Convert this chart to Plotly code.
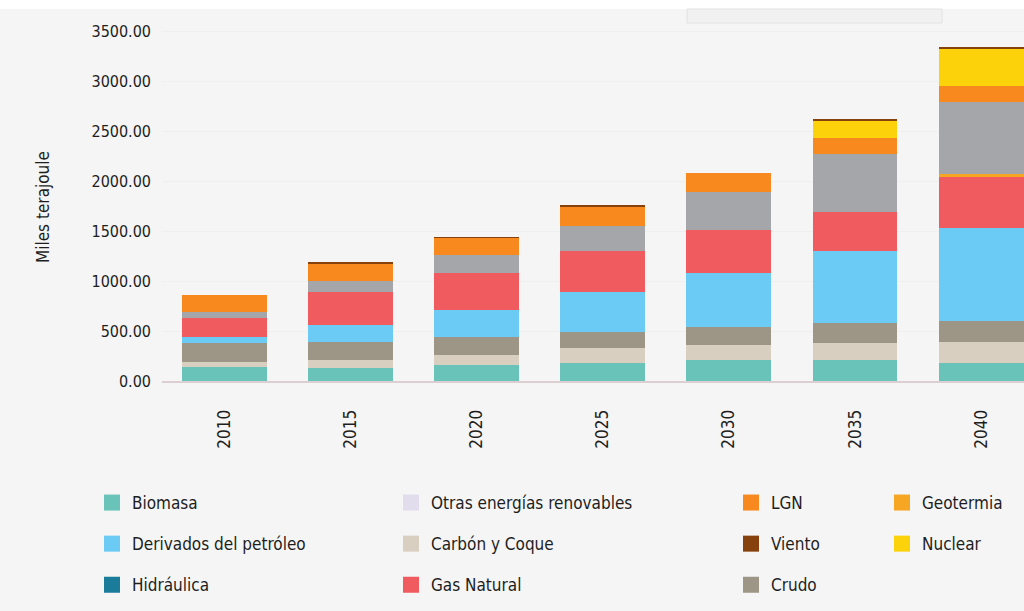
import plotly.graph_objects as go

years = ["2010", "2015", "2020", "2025", "2030", "2035", "2040"]

# Values (miles de terajoule), bottom to top of each stack
biomasa = [140, 135, 160, 183, 210, 210, 180]
carbon_coque = [50, 75, 100, 150, 150, 167, 213]
crudo = [195, 183, 180, 160, 183, 200, 205]
derivados = [55, 167, 270, 400, 534, 726, 937]
gas_natural = [190, 333, 370, 410, 433, 390, 503]
geotermia = [0, 0, 0, 0, 0, 0, 30]
hidraulica = [0, 0, 0, 0, 0, 0, 0]
otras_renovables = [0, 0, 0, 0, 0, 0, 0]
gris_superior = [60, 110, 180, 247, 383, 577, 720]
lgn = [170, 167, 170, 190, 190, 157, 165]
nuclear = [0, 0, 0, 0, 0, 176, 370]
viento = [0, 20, 10, 12, 0, 20, 20]

y_ticks = [0, 500, 1000, 1500, 2000, 2500, 3000, 3500]
y_title = "Miles terajoule"

colors = {
    "Biomasa": "#69c3b9",
    "Carbón y Coque": "#d8cfc0",
    "Crudo": "#9d9585",
    "Derivados del petróleo": "#6bcbf4",
    "Gas Natural": "#ef5b5f",
    "Geotermia": "#f6a623",
    "Hidráulica": "#1a7b9b",
    "Otras energías renovables": "#e2dded",
    "Electricidad": "#a4a6a9",
    "LGN": "#f7891f",
    "Nuclear": "#fcd20a",
    "Viento": "#86410c",
}

stack = [
    ("Biomasa", biomasa),
    ("Carbón y Coque", carbon_coque),
    ("Crudo", crudo),
    ("Derivados del petróleo", derivados),
    ("Gas Natural", gas_natural),
    ("Hidráulica", hidraulica),
    ("Otras energías renovables", otras_renovables),
    ("Geotermia", geotermia),
    ("Electricidad", gris_superior),
    ("LGN", lgn),
    ("Nuclear", nuclear),
    ("Viento", viento),
]

FONT = "Liberation Sans Narrow, DejaVu Sans Condensed, Arial Narrow, Liberation Sans, sans-serif"
TXT = "#1e1e1e"

fig = go.Figure()
for name, vals in stack:
    fig.add_trace(go.Bar(
        x=years, y=vals, name=name,
        marker=dict(color=colors[name], line=dict(width=0)),
        showlegend=False,
    ))

legend_columns = [
    ("legend", ["Biomasa", "Derivados del petróleo", "Hidráulica"]),
    ("legend2", ["Otras energías renovables", "Carbón y Coque", "Gas Natural"]),
    ("legend3", ["LGN", "Viento", "Crudo"]),
    ("legend4", ["Geotermia", "Nuclear"]),
]
for lg, names in legend_columns:
    for nm in names:
        fig.add_trace(go.Scatter(
            x=[years[0]], y=[None], mode="markers", name=nm,
            marker=dict(symbol="square", size=16, color=colors[nm]),
            legend=lg, legendgroup=nm, showlegend=True, hoverinfo="skip",
        ))

legend_x = {"legend": 92, "legend2": 391, "legend3": 731, "legend4": 882}
leg_common = dict(
    xref="container", yref="container", yanchor="top", xanchor="left",
    y=1 - 485 / 611, orientation="v", traceorder="grouped", tracegroupgap=16,
    bgcolor="rgba(0,0,0,0)",
    font=dict(family=FONT, size=17, color=TXT),
    itemsizing="trace",
)

layout_legends = {}
for lg, px in legend_x.items():
    d = dict(leg_common)
    d["x"] = px / 1024
    layout_legends[lg] = d

L, T, B = 162, 20, 230
plot_w = 1024 - L
plot_h = 611 - T - B

fig.update_layout(
    width=1024, height=611, autosize=False,
    margin=dict(l=L, r=0, t=T, b=B, pad=0, autoexpand=False),
    paper_bgcolor="#f5f5f5", plot_bgcolor="#f5f5f5",
    barmode="stack", bargap=0.327,
    font=dict(family=FONT, size=16, color=TXT),
    xaxis=dict(
        type="category", categoryorder="array", categoryarray=years,
        range=[-0.495, 6.34], tickangle=-90,
        showgrid=False, showline=True, linecolor="#dccfd1", linewidth=2,
        ticks="", ticklabelstandoff=20,
        tickfont=dict(size=17, color=TXT),
        fixedrange=True,
    ),
    yaxis=dict(
        range=[0, 3610], tickvals=y_ticks, tickformat=".2f",
        showgrid=True, gridcolor="#efefef", gridwidth=1, zeroline=False,
        ticks="", ticklabelstandoff=10,
        tickfont=dict(size=16, color=TXT),
        fixedrange=True,
    ),
    annotations=[
        dict(text=y_title, xref="paper", yref="paper",
             x=(43 - L) / plot_w, y=(611 - B - 207) / plot_h,
             xanchor="center", yanchor="middle", textangle=-90, showarrow=False,
             font=dict(family=FONT, size=17, color=TXT)),
    ],
    shapes=[
        dict(type="rect", xref="paper", yref="paper",
             x0=-L / plot_w, x1=1, y0=(611 - B - 9) / plot_h, y1=(611 - B) / plot_h,
             fillcolor="#ffffff", line=dict(width=0), layer="above"),
        dict(type="rect", xref="paper", yref="paper",
             x0=(687 - L) / plot_w, x1=(942 - L) / plot_w,
             y0=(611 - B - 23) / plot_h, y1=(611 - B - 9) / plot_h,
             fillcolor="#f1f1f1", line=dict(color="#e2e2e2", width=1), layer="above"),
    ],
    **layout_legends,
)

fig.write_html(
    "out.html",
    config={"responsive": False, "displayModeBar": False},
    post_script="document.body.style.margin='0';document.body.style.overflow='hidden';",
)
